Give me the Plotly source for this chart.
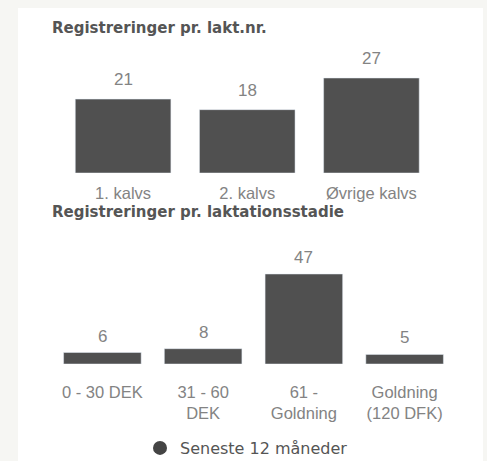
import plotly.graph_objects as go

W, H = 487, 461

# Data
lakt_categories = ["1. kalvs", "2. kalvs", "Øvrige kalvs"]
lakt_values = [21, 18, 27]

stadie_categories = ["0 - 30 DEK", "31 - 60<br>DEK", "61 -<br>Goldning", "Goldning<br>(120 DFK)"]
stadie_values = [6, 8, 47, 5]

title_top = "Registreringer pr. lakt.nr."
title_bottom = "Registreringer pr. laktationsstadie"
legend_name = "Seneste 12 måneder"

BAR = "#505050"
TXT = "#838383"
TITLE = "#555555"
FONT = "Liberation Sans"
TFONT = "DejaVu Sans"


def px_x(p):
    return p / W


def px_y(p):
    return 1 - p / H


fig = go.Figure()

fig.add_trace(go.Bar(x=lakt_categories, y=lakt_values, marker_color=BAR,
                     xaxis="x", yaxis="y", showlegend=False, hoverinfo="x+y"))
fig.add_trace(go.Bar(x=stadie_categories, y=stadie_values, marker_color=BAR,
                     xaxis="x2", yaxis="y2", showlegend=False, hoverinfo="y"))
# legend marker
fig.add_trace(go.Scatter(x=[None], y=[None], mode="markers", name=legend_name,
                         marker=dict(symbol="circle", size=14, color="#444444"),
                         xaxis="x2", yaxis="y2", showlegend=True))

annotations = []
for c, v in zip(lakt_categories, lakt_values):
    annotations.append(dict(x=c, y=v, xref="x", yref="y", text=str(v), showarrow=False,
                            yanchor="bottom", yshift=8, font=dict(family=FONT, size=17, color=TXT)))
for c, v in zip(stadie_categories, stadie_values):
    annotations.append(dict(x=c, y=v, xref="x2", yref="y2", text=str(v), showarrow=False,
                            yanchor="bottom", yshift=5, font=dict(family=FONT, size=17, color=TXT)))

annotations.append(dict(x=px_x(50), y=px_y(28), xref="paper", yref="paper", text=title_top,
                        showarrow=False, xanchor="left", yanchor="middle",
                        font=dict(family=TFONT, size=15, color=TITLE, weight="bold")))
annotations.append(dict(x=px_x(50), y=px_y(212), xref="paper", yref="paper", text=title_bottom,
                        showarrow=False, xanchor="left", yanchor="middle",
                        font=dict(family=TFONT, size=15, color=TITLE, weight="bold")))

tickfont = dict(family=FONT, size=16.5, color=TXT)

fig.update_layout(
    width=W, height=H,
    margin=dict(l=0, r=0, t=0, b=0, autoexpand=False),
    paper_bgcolor="#f6f6f3",
    plot_bgcolor="rgba(0,0,0,0)",
    bargap=0.23,
    shapes=[dict(type="rect", xref="paper", yref="paper",
                 x0=px_x(18), x1=px_x(483), y0=0, y1=px_y(8),
                 fillcolor="white", line=dict(width=0), layer="below")],
    annotations=annotations,
    xaxis=dict(domain=[px_x(61), px_x(433.5)], showgrid=False, zeroline=False, showline=False,
               ticks="outside", ticklen=5, tickcolor="rgba(0,0,0,0)", tickfont=tickfont,
               fixedrange=True),
    yaxis=dict(domain=[px_y(173), px_y(60)], range=[0, 27 * 113 / 95], visible=False,
               fixedrange=True),
    xaxis2=dict(domain=[px_x(52), px_x(455)], anchor="y2", showgrid=False, zeroline=False,
                showline=False, ticks="outside", ticklen=13, tickcolor="rgba(0,0,0,0)",
                tickfont=tickfont, fixedrange=True),
    yaxis2=dict(domain=[px_y(364), px_y(254)], range=[0, 47 * 110 / 90], visible=False,
                anchor="x2", fixedrange=True),
    legend=dict(orientation="h", x=px_x(140), xanchor="left", y=px_y(448), yanchor="middle",
                font=dict(family=TFONT, size=16, color="#555555"), bgcolor="rgba(0,0,0,0)"),
)

fig.write_html("out.html", config={"displayModeBar": False},
               post_script="document.body.style.margin='0';")
